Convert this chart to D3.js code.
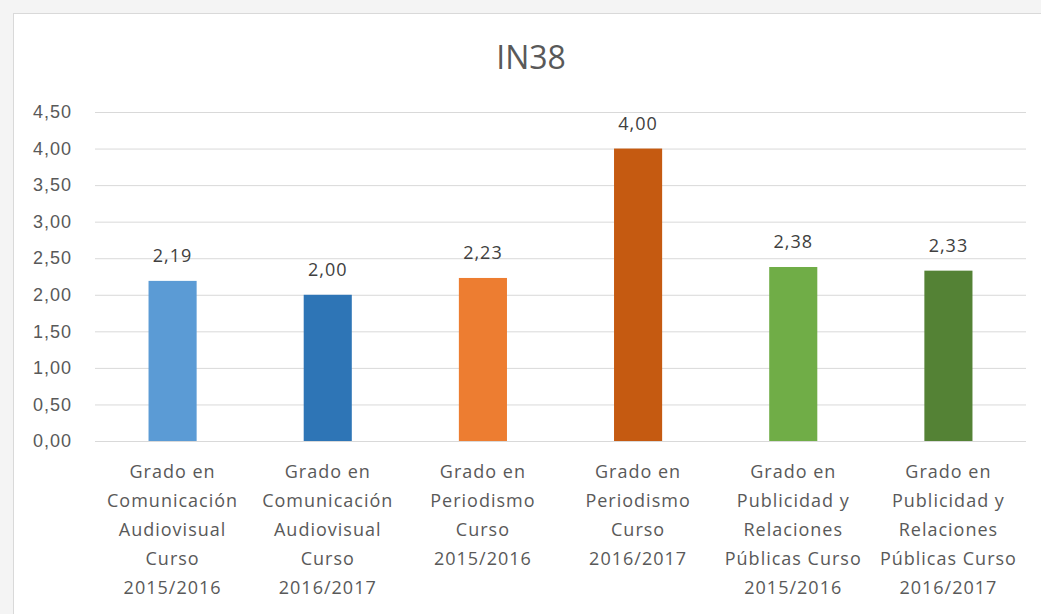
<!DOCTYPE html>
<html>
<head>
<meta charset="utf-8">
<script src="https://cdn.jsdelivr.net/npm/d3@7"></script>
<style>
  body { margin: 0; background: #f4f4f4; }
  svg { display: block; font-family: "Open Sans", sans-serif; }
</style>
</head>
<body>
<div id="chart"></div>
<script>
// chart data
var title = "IN38";
var categories = [
    ["Grado en", "Comunicación", "Audiovisual", "Curso", "2015/2016"],
    ["Grado en", "Comunicación", "Audiovisual", "Curso", "2016/2017"],
    ["Grado en", "Periodismo", "Curso", "2015/2016"],
    ["Grado en", "Periodismo", "Curso", "2016/2017"],
    ["Grado en", "Publicidad y", "Relaciones", "Públicas Curso", "2015/2016"],
    ["Grado en", "Publicidad y", "Relaciones", "Públicas Curso", "2016/2017"]
];
var values = [2.19, 2.00, 2.23, 4.00, 2.38, 2.33];
var yTicks = [0, 0.5, 1, 1.5, 2, 2.5, 3, 3.5, 4, 4.5];
var colors = ["#5b9bd5", "#2e75b6", "#ed7d31", "#c55a11", "#70ad47", "#548235"];

var w = 1041, h = 614;
var margin = { top: 112, right: 15, bottom: 173, left: 95 };

var fmt = function (d) { return d.toFixed(2).replace(".", ","); };

var svg = d3.select("#chart").append("svg")
    .attr("width", w)
    .attr("height", h);

// chart box
svg.append("rect")
    .attr("x", 13.5).attr("y", 13.5)
    .attr("width", w + 10).attr("height", h + 10)
    .attr("fill", "#fff")
    .attr("stroke", "#d9d9d9");

var x = d3.scaleBand()
    .domain(d3.range(values.length))
    .range([margin.left, w - margin.right])
    .paddingInner(0.69)
    .paddingOuter(0.345);

var y = d3.scaleLinear()
    .domain([0, 4.5])
    .range([h - margin.bottom, margin.top]);

// title
svg.append("text")
    .attr("x", 531).attr("y", 69)
    .attr("text-anchor", "middle")
    .attr("font-size", 32)
    .attr("fill", "#595959")
    .text(title);

// gridlines + y labels
var yAxis = d3.axisLeft(y)
    .tickValues(yTicks)
    .tickSize(-(w - margin.right - margin.left))
    .tickPadding(23)
    .tickFormat(fmt);

var gy = svg.append("g")
    .attr("transform", "translate(" + margin.left + ",0)")
    .call(yAxis);
gy.select(".domain").remove();
gy.selectAll(".tick line").attr("stroke", "#d9d9d9");
gy.selectAll(".tick text")
    .attr("font-size", 18)
    .attr("letter-spacing", 1)
    .attr("fill", "#595959");

// bars
svg.selectAll("rect.bar")
    .data(values)
    .enter()
    .append("rect")
    .attr("class", "bar")
    .attr("x", function (d, i) { return x(i); })
    .attr("y", function (d) { return y(d); })
    .attr("width", x.bandwidth())
    .attr("height", function (d) { return y(0) - y(d); })
    .attr("fill", function (d, i) { return colors[i]; });

// value labels
svg.selectAll("text.val")
    .data(values)
    .enter()
    .append("text")
    .attr("class", "val")
    .attr("x", function (d, i) { return x(i) + x.bandwidth() / 2; })
    .attr("y", function (d) { return y(d) - 19; })
    .attr("text-anchor", "middle")
    .attr("font-size", 18)
    .attr("letter-spacing", 1)
    .attr("fill", "#404040")
    .text(fmt);

// category labels
var cat = svg.selectAll("text.cat")
    .data(categories)
    .enter()
    .append("text")
    .attr("class", "cat")
    .attr("text-anchor", "middle")
    .attr("font-size", 18)
    .attr("letter-spacing", 1)
    .attr("fill", "#595959");

cat.selectAll("tspan")
    .data(function (d, i) { return d.map(function (s) { return { s: s, i: i }; }); })
    .enter()
    .append("tspan")
    .attr("x", function (d) { return x(d.i) + x.bandwidth() / 2; })
    .attr("y", function (d, j) { return 478 + j * 29; })
    .text(function (d) { return d.s; });
</script>
</body>
</html>
